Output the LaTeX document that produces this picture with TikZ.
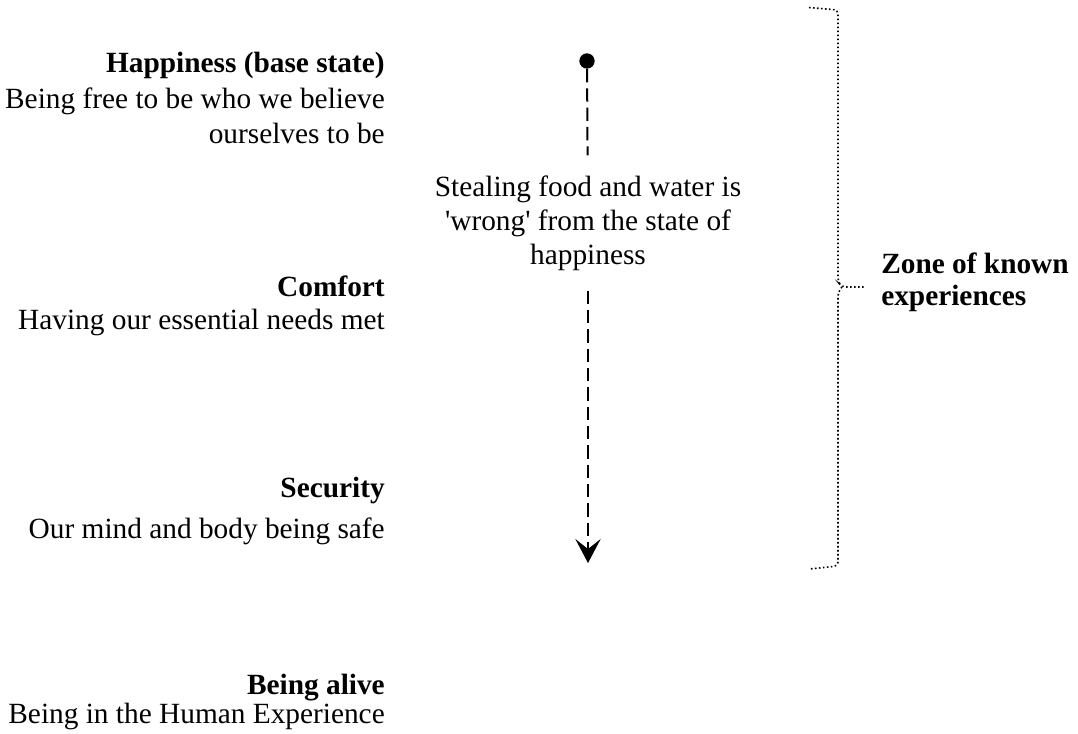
\documentclass[tikz,border=0pt]{standalone}
\usepackage{xcolor}
\usepackage{fontspec}
\usepackage{tikz}
\usetikzlibrary{arrows.meta}
\newfontfamily\diagfont{Liberation Serif}

\tikzset{
  headtext/.style={anchor=base east, inner sep=0.75pt, font=\diagfont\fontsize{22}{26}\selectfont\bfseries},
  bodytext/.style={anchor=base east, inner sep=0.75pt, font=\diagfont\fontsize{22}{26}\selectfont},
  zonetext/.style={anchor=base west, inner sep=0.75pt, font=\diagfont\fontsize{22}{26}\selectfont\bfseries},
  flowline/.style={line width=1.5pt, dash pattern=on 10pt off 4.5pt},
  zonedots/.style={line width=1.2pt, dash pattern=on 1.2pt off 1.8pt, rounded corners=3pt},
}

\begin{document}
\begin{tikzpicture}[x=0.75pt,y=0.75pt,yscale=-1,xscale=1]
        \useasboundingbox (0,0) rectangle (1078,733);

        % Text Node
        \draw (386,72) node (happyhead) [headtext] {Happiness (base state)};
        % Text Node
        \draw (386,108) node (happyline1) [bodytext] {Being free to be who we believe};
        % Text Node
        \draw (386,143) node (happyline2) [bodytext] {ourselves to be};
        % Text Node
        \draw (386,296) node (comforthead) [headtext] {Comfort};
        % Text Node
        \draw (386,329) node (comfortline) [bodytext] {Having our essential needs met};
        % Text Node
        \draw (386,497) node (securityhead) [headtext] {Security};
        % Text Node
        \draw (386,538) node (securityline) [bodytext] {Our mind and body being safe};
        % Text Node
        \draw (386,694) node (alivehead) [headtext] {Being alive};
        % Text Node
        \draw (386,723) node (aliveline) [bodytext] {Being in the Human Experience};

        %Shape: Circle [start dot]
        \draw (587,61) node (start) [circle, fill, inner sep=0pt, minimum size=11.5pt] {};
        % Text Node
        \draw (588,223) node (stealing) [align=center, inner xsep=0.75pt, inner ysep=15pt, font=\diagfont\fontsize{22}{25.5}\selectfont] {Stealing food and water is\\'wrong' from the state of\\happiness};
        \coordinate (finish) at (588,563);

        %Shape: Dashed Line
        \draw [flowline] (start) -- (stealing);
        %Shape: Dashed Arrow
        \draw [flowline, -{Stealth[length=18pt, width=19pt, inset=7.5pt]}] (stealing) -- (finish);

        %Shape: Brace
        \draw [zonedots] (809,7.5) -- (838,10) -- (838,282) -- (842,287) -- (864,287);
        \draw [zonedots] (842,287) -- (838,292) -- (838,566) -- (809,569);

        % Text Node
        \draw (880,273) node (zoneline1) [zonetext] {Zone of known};
        % Text Node
        \draw (880,305) node (zoneline2) [zonetext] {experiences};
    \end{tikzpicture}
\end{document}
